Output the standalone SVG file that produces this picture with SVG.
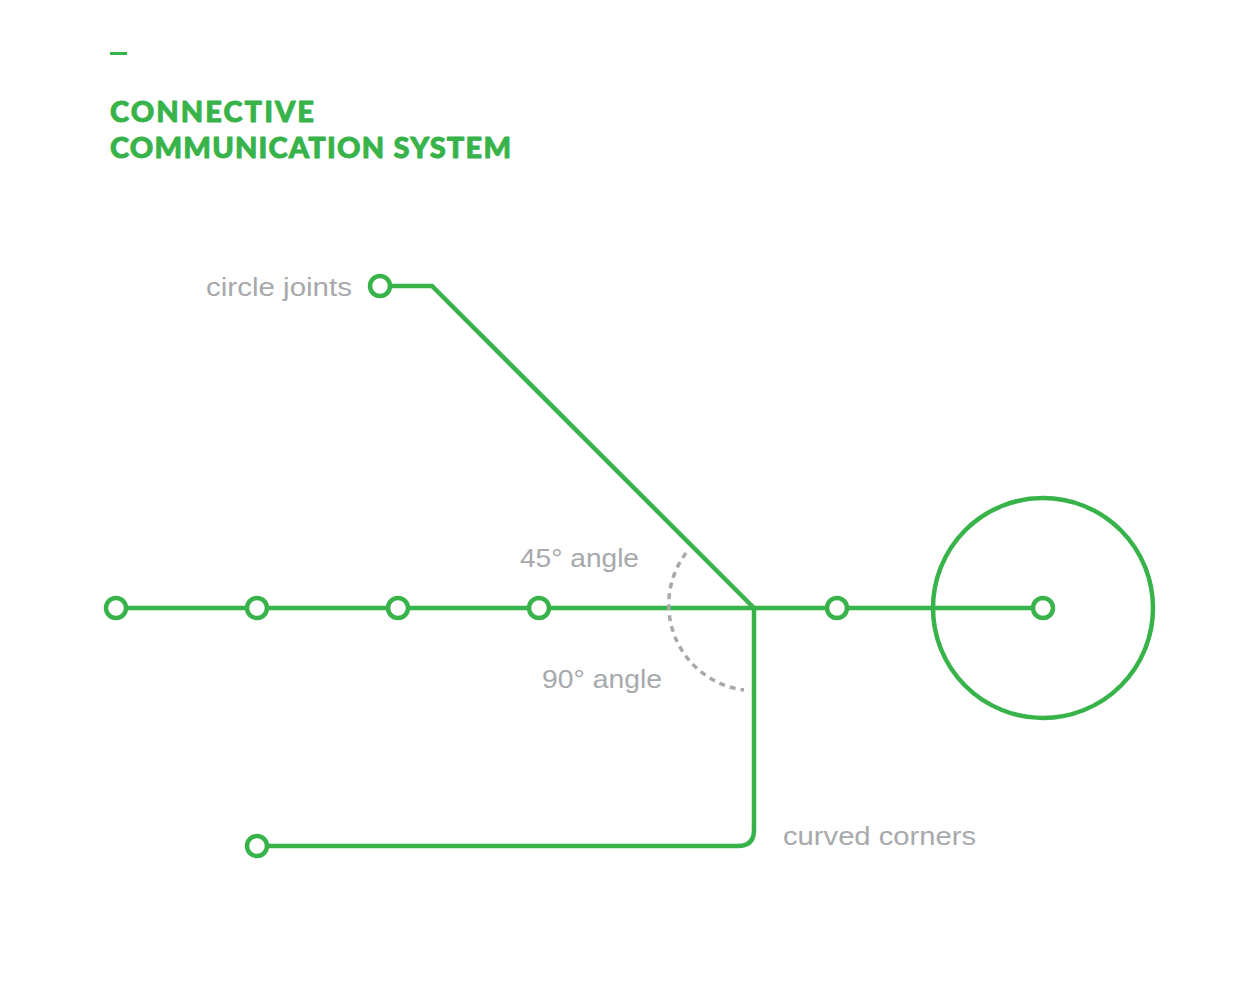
<svg xmlns="http://www.w3.org/2000/svg" width="1240" height="988" viewBox="0 0 1240 988">
  <style>
    .line { fill: none; stroke: #37b34a; stroke-width: 4.5; stroke-linejoin: miter; }
    .joint { fill: #ffffff; stroke: #37b34a; stroke-width: 4.5; }
    .title { font-family: "Lato", "Liberation Sans", sans-serif; font-weight: 900; font-size: 29px; fill: #37b34a; stroke: #37b34a; stroke-width: 0.9; stroke-linejoin: round; }
    .label { font-family: "Liberation Sans", Arial, sans-serif; font-size: 26px; fill: #a7a9ac; }
    .guide { fill: none; stroke: #a7a9ac; stroke-width: 3.5; stroke-dasharray: 6 5; }
  </style>
  <rect width="1240" height="988" fill="#ffffff"/>

  <!-- heading -->
  <g id="heading">
    <rect x="110" y="52" width="17" height="3" fill="#37b34a"/>
    <text class="title" x="110" y="122" textLength="204" lengthAdjust="spacing">CONNECTIVE</text>
    <text class="title" x="110" y="158" textLength="401" lengthAdjust="spacing">COMMUNICATION SYSTEM</text>
  </g>

  <!-- connectors -->
  <g id="connectors">
    <line class="line" x1="116" y1="608" x2="1043" y2="608"/>
    <polyline class="line" points="380,286 432,286 754,608"/>
    <path class="line" d="M754,608 V830 Q754,846 738,846 H257"/>
    <path class="guide" d="M686,553 A86,86 0 0 0 744,690"/>
  </g>

  <!-- nodes -->
  <g id="node-hub">
    <circle class="line" cx="1043" cy="608" r="110"/>
  </g>
  <g id="node-1"><circle class="joint" cx="116" cy="608" r="10"/></g>
  <g id="node-2"><circle class="joint" cx="257" cy="608" r="10"/></g>
  <g id="node-3"><circle class="joint" cx="398" cy="608" r="10"/></g>
  <g id="node-4"><circle class="joint" cx="539" cy="608" r="10"/></g>
  <g id="node-5"><circle class="joint" cx="837" cy="608" r="10"/></g>
  <g id="node-6"><circle class="joint" cx="1043" cy="608" r="10"/></g>
  <g id="node-top"><circle class="joint" cx="380" cy="286" r="10"/></g>
  <g id="node-bottom"><circle class="joint" cx="257" cy="846" r="10"/></g>

  <!-- labels -->
  <g id="labels">
    <text class="label" x="206" y="296" textLength="146" lengthAdjust="spacingAndGlyphs">circle joints</text>
    <text class="label" x="520" y="567" textLength="119" lengthAdjust="spacingAndGlyphs">45° angle</text>
    <text class="label" x="542" y="688" textLength="120" lengthAdjust="spacingAndGlyphs">90° angle</text>
    <text class="label" x="783" y="845" textLength="193" lengthAdjust="spacingAndGlyphs">curved corners</text>
  </g>
</svg>
